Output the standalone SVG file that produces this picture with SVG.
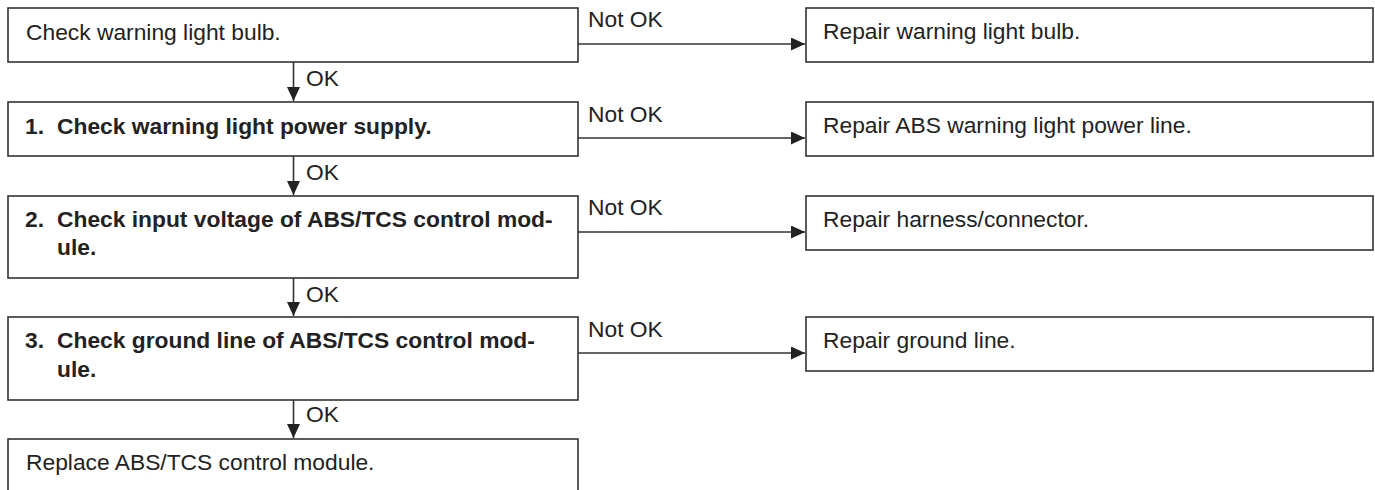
<svg xmlns="http://www.w3.org/2000/svg" width="1375" height="490" viewBox="0 0 1375 490">
<style>
.box{fill:#fff;stroke:#333;stroke-width:1.6}
.t{font-family:"Liberation Sans",Arial,sans-serif;font-size:22.8px;fill:#222}
.b{font-weight:bold}
.ln{stroke:#333;stroke-width:1.6;fill:none;marker-end:url(#ah)}
</style>
<defs>
<marker id="ah" markerUnits="userSpaceOnUse" markerWidth="14" markerHeight="13" refX="14" refY="6.5" orient="auto">
<path d="M0,0 L14,6.5 L0,13 z" fill="#222"/>
</marker>
</defs>
<rect width="1375" height="490" fill="#fff"/>
<g id="connectors">
<path class="ln" d="M293.5,62 V101"/>
<path class="ln" d="M293.5,156 V195"/>
<path class="ln" d="M293.5,278 V316"/>
<path class="ln" d="M293.5,400 V438"/>
<path class="ln" d="M578,44 H805"/>
<path class="ln" d="M578,138 H805"/>
<path class="ln" d="M578,232 H805"/>
<path class="ln" d="M578,353 H805"/>
<text class="t" x="306" y="86">OK</text>
<text class="t" x="306" y="180">OK</text>
<text class="t" x="306" y="302">OK</text>
<text class="t" x="306" y="422">OK</text>
<text class="t" x="588" y="27">Not OK</text>
<text class="t" x="588" y="122">Not OK</text>
<text class="t" x="588" y="215">Not OK</text>
<text class="t" x="588" y="337">Not OK</text>
</g>
<g id="n0">
<rect class="box" x="8" y="8" width="570" height="54"/>
<text class="t" x="26" y="40">Check warning light bulb.</text>
</g>
<g id="n1">
<rect class="box" x="8" y="102" width="570" height="54"/>
<text class="t b" y="134"><tspan x="25">1.</tspan><tspan x="57">Check warning light power supply.</tspan></text>
</g>
<g id="n2">
<rect class="box" x="8" y="196" width="570" height="82"/>
<text class="t b" y="227"><tspan x="25">2.</tspan><tspan x="57">Check input voltage of ABS/TCS control mod-</tspan></text>
<text class="t b" x="57" y="255">ule.</text>
</g>
<g id="n3">
<rect class="box" x="8" y="317" width="570" height="83"/>
<text class="t b" y="348"><tspan x="25">3.</tspan><tspan x="57">Check ground line of ABS/TCS control mod-</tspan></text>
<text class="t b" x="57" y="377">ule.</text>
</g>
<g id="n4">
<rect class="box" x="8" y="439" width="570" height="70"/>
<text class="t" x="26" y="470">Replace ABS/TCS control module.</text>
</g>
<g id="r0">
<rect class="box" x="806" y="8" width="567" height="54"/>
<text class="t" x="823" y="39">Repair warning light bulb.</text>
</g>
<g id="r1">
<rect class="box" x="806" y="102" width="567" height="54"/>
<text class="t" x="823" y="133">Repair ABS warning light power line.</text>
</g>
<g id="r2">
<rect class="box" x="806" y="196" width="567" height="54"/>
<text class="t" x="823" y="227">Repair harness/connector.</text>
</g>
<g id="r3">
<rect class="box" x="806" y="317" width="567" height="54"/>
<text class="t" x="823" y="348">Repair ground line.</text>
</g>
</svg>
